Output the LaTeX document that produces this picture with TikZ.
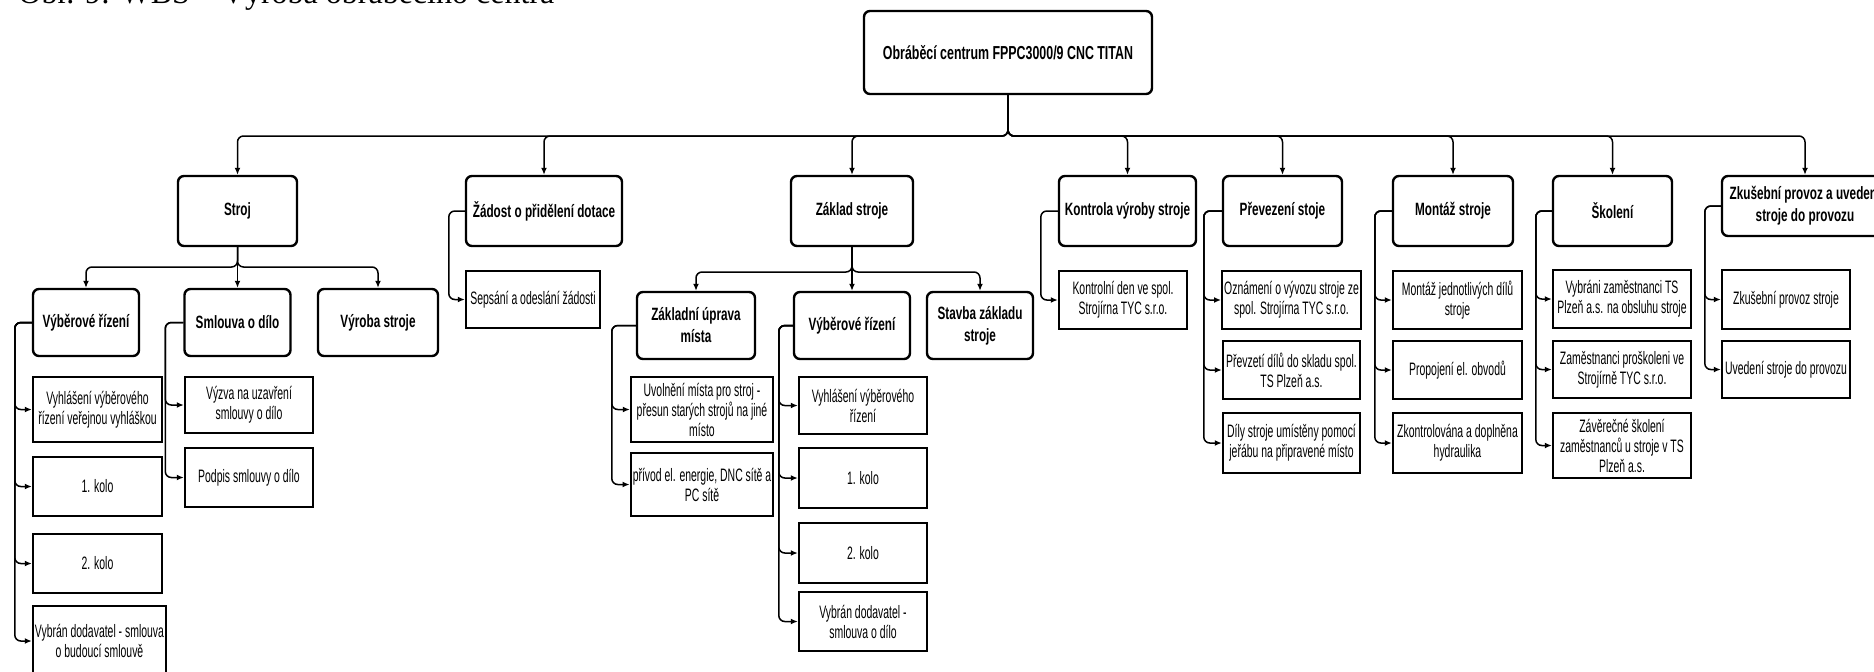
\documentclass[tikz,border=0pt]{standalone}
\usepackage{fontspec}
\setmainfont{Liberation Serif}
\newfontfamily\wbsfont[FakeStretch=0.58]{Liberation Sans}
\newfontfamily\wbshead[FakeStretch=0.66]{Liberation Sans}
\usetikzlibrary{arrows.meta}

\begin{document}
\begin{tikzpicture}[x=0.5pt, y=-0.5pt,
  hdr/.style={draw, line width=1.2pt, rounded corners=3pt, align=center, inner sep=1pt,
    font=\wbshead\bfseries\fontsize{8.9}{11}\selectfont},
  leaf/.style={draw, line width=1.2pt, align=center, inner sep=1pt,
    font=\wbsfont\fontsize{9}{10}\selectfont},
  conn/.style={line width=0.75pt, rounded corners=3pt, -{Latex[length=3.5pt,width=3pt]}}]
\useasboundingbox (0, 0) rectangle (1874, 671);
\node[anchor=base west, inner sep=0pt, font=\fontsize{16}{19}\selectfont] (caption) at (18, 3) {Obr. 9: WBS – Výroba obráběcího centra};

\node[hdr, font=\wbshead\bfseries\fontsize{9.4}{11}\selectfont, minimum width=144pt, minimum height=41.5pt] (root) at (1008, 52.5) {Obráběcí centrum FPPC3000/9 CNC TITAN};
\coordinate (bus) at (1008, 136);

\node[hdr, minimum width=59.5pt, minimum height=35pt] (stroj) at (237.5, 211) {Stroj};
\node[hdr, minimum width=78pt, minimum height=35pt] (zadost) at (544, 211) {Žádost o přidělení dotace};
\node[hdr, minimum width=61pt, minimum height=35pt] (zaklad) at (852, 211) {Základ stroje};
\node[hdr, minimum width=68.5pt, minimum height=35pt] (kontrola) at (1127.5, 211) {Kontrola výroby stroje};
\node[hdr, minimum width=59.5pt, minimum height=35pt] (prevezeni) at (1282.5, 211) {Převezení stoje};
\node[hdr, minimum width=60pt, minimum height=35pt] (montaz) at (1453, 211) {Montáž stroje};
\node[hdr, minimum width=59.5pt, minimum height=35pt] (skoleni) at (1612.5, 211) {Školení};
\node[hdr, minimum width=83pt, minimum height=30pt] (zkusebni) at (1805, 206) {Zkušební provoz a uvedení\\stroje do provozu};

\draw[conn] (root.south) -- (bus) -| (stroj.north);
\draw[conn] (root.south) -- (bus) -| (zadost.north);
\draw[conn] (root.south) -- (bus) -| (zaklad.north);
\draw[conn] (root.south) -- (bus) -| (kontrola.north);
\draw[conn] (root.south) -- (bus) -| (prevezeni.north);
\draw[conn] (root.south) -- (bus) -| (montaz.north);
\draw[conn] (root.south) -- (bus) -| (skoleni.north);
\draw[conn] (root.south) -- (bus) -| (zkusebni.north);

\node[hdr, minimum width=53pt, minimum height=33.5pt] (vrA) at (86, 322.5) {Výběrové řízení};
\node[hdr, minimum width=53pt, minimum height=33.5pt] (smlouva) at (237.5, 322.5) {Smlouva o dílo};
\node[hdr, minimum width=60pt, minimum height=33.5pt] (vyroba) at (378, 322.5) {Výroba stroje};
\coordinate (sbus) at (237.5, 267);
\draw[conn] (stroj.south) -- (sbus) -| (vrA.north);
\draw[conn] (stroj.south) -- (smlouva.north);
\draw[conn] (stroj.south) -- (sbus) -| (vyroba.north);

\node[hdr, minimum width=59pt, minimum height=33.5pt] (uprava) at (696, 325.5) {Základní úprava\\místa};
\node[hdr, minimum width=58pt, minimum height=33.5pt] (vrB) at (852, 325.5) {Výběrové řízení};
\node[hdr, minimum width=53pt, minimum height=33.5pt] (stavba) at (980, 325.5) {Stavba základu\\stroje};
\coordinate (zbus) at (852, 272);
\draw[conn] (zaklad.south) -- (zbus) -| (uprava.north);
\draw[conn] (zaklad.south) -- (vrB.north);
\draw[conn] (zaklad.south) -- (zbus) -| (stavba.north);

\node[leaf, minimum width=64.5pt, minimum height=32.5pt] (vyhlA) at (97.5, 409.5) {Vyhlášení výběrového\\řízení veřejnou vyhláškou};
\node[leaf, minimum width=64.5pt, minimum height=29.5pt] (koloA1) at (97.5, 486.5) {1. kolo};
\node[leaf, minimum width=64.5pt, minimum height=29.5pt] (koloA2) at (97.5, 563.5) {2. kolo};
\node[leaf, minimum width=66.5pt, minimum height=35pt] (vybranA) at (99.5, 641) {Vybrán dodavatel - smlouva\\o budoucí smlouvě};
\draw[conn] (vrA.west) -- ++(-17, 0) |- (vyhlA.west);
\draw[conn] (vrA.west) -- ++(-17, 0) |- (koloA1.west);
\draw[conn] (vrA.west) -- ++(-17, 0) |- (koloA2.west);
\draw[conn] (vrA.west) -- ++(-17, 0) |- (vybranA.west);

\node[leaf, minimum width=64pt, minimum height=28pt] (vyzva) at (249, 405) {Výzva na uzavření\\smlouvy o dílo};
\node[leaf, minimum width=64pt, minimum height=29.5pt] (podpis) at (249, 477.5) {Podpis smlouvy o dílo};
\draw[conn] (smlouva.west) -- ++(-18, 0) |- (vyzva.west);
\draw[conn] (smlouva.west) -- ++(-18, 0) |- (podpis.west);

\node[leaf, minimum width=67pt, minimum height=28.5pt] (sepsani) at (533, 299.5) {Sepsání a odeslání žádosti};
\draw[conn] (zadost.west) -- ++(-16, 0) |- (sepsani.west);

\node[leaf, minimum width=71pt, minimum height=32.5pt] (uvolneni) at (702, 409.5) {Uvolnění místa pro stroj -\\přesun starých strojů na jiné\\místo};
\node[leaf, minimum width=71pt, minimum height=31.5pt] (privod) at (702, 484.5) {přívod el. energie, DNC sítě a\\PC sítě};
\draw[conn] (uprava.west) -- ++(-24, 0) |- (uvolneni.west);
\draw[conn] (uprava.west) -- ++(-24, 0) |- (privod.west);

\node[leaf, minimum width=64pt, minimum height=28.5pt] (vyhlB) at (863, 405.5) {Vyhlášení výběrového\\řízení};
\node[leaf, minimum width=64pt, minimum height=30pt] (koloB1) at (863, 478) {1. kolo};
\node[leaf, minimum width=64pt, minimum height=30pt] (koloB2) at (863, 553) {2. kolo};
\node[leaf, minimum width=64pt, minimum height=29.5pt] (vybranB) at (863, 621.5) {Vybrán dodavatel -\\smlouva o dílo};
\draw[conn] (vrB.west) -- ++(-14, 0) |- (vyhlB.west);
\draw[conn] (vrB.west) -- ++(-14, 0) |- (koloB1.west);
\draw[conn] (vrB.west) -- ++(-14, 0) |- (koloB2.west);
\draw[conn] (vrB.west) -- ++(-14, 0) |- (vybranB.west);

\node[leaf, minimum width=64pt, minimum height=29pt] (kontrolni) at (1123, 300) {Kontrolní den ve spol.\\Strojírna TYC s.r.o.};
\draw[conn] (kontrola.west) -- ++(-17, 0) |- (kontrolni.west);

\node[leaf, minimum width=68.5pt, minimum height=29pt] (oznameni) at (1291.5, 300) {Oznámení o vývozu stroje ze\\spol. Strojírna TYC s.r.o.};
\node[leaf, minimum width=68.5pt, minimum height=29pt] (prevzeti) at (1291.5, 370) {Převzetí dílů do skladu spol.\\TS Plzeň a.s.};
\node[leaf, minimum width=68.5pt, minimum height=30pt] (dily) at (1291.5, 443) {Díly stroje umístěny pomocí\\jeřábu na připravené místo};
\draw[conn] (prevezeni.west) -- ++(-18, 0) |- (oznameni.west);
\draw[conn] (prevezeni.west) -- ++(-18, 0) |- (prevzeti.west);
\draw[conn] (prevezeni.west) -- ++(-18, 0) |- (dily.west);

\node[leaf, minimum width=64.5pt, minimum height=29pt] (montazdilu) at (1457.5, 300) {Montáž jednotlivých dílů\\stroje};
\node[leaf, minimum width=64.5pt, minimum height=29pt] (propojeni) at (1457.5, 370) {Propojení el. obvodů};
\node[leaf, minimum width=64.5pt, minimum height=30pt] (hydraulika) at (1457.5, 443) {Zkontrolována a doplněna\\hydraulika};
\draw[conn] (montaz.west) -- ++(-17, 0) |- (montazdilu.west);
\draw[conn] (montaz.west) -- ++(-17, 0) |- (propojeni.west);
\draw[conn] (montaz.west) -- ++(-17, 0) |- (hydraulika.west);

\node[leaf, minimum width=69pt, minimum height=29pt] (vybrani) at (1622, 299) {Vybráni zaměstnanci TS\\Plzeň a.s. na obsluhu stroje};
\node[leaf, minimum width=69pt, minimum height=28.5pt] (proskoleni) at (1622, 369.5) {Zaměstnanci proškoleni ve\\Strojírně TYC s.r.o.};
\node[leaf, minimum width=69pt, minimum height=32.5pt] (zaverecne) at (1622, 445.5) {Závěrečné školení\\zaměstnanců u stroje v TS\\Plzeň a.s.};
\draw[conn] (skoleni.west) -- ++(-16, 0) |- (vybrani.west);
\draw[conn] (skoleni.west) -- ++(-16, 0) |- (proskoleni.west);
\draw[conn] (skoleni.west) -- ++(-16, 0) |- (zaverecne.west);

\node[leaf, minimum width=64pt, minimum height=29.5pt] (provoz) at (1786, 299.5) {Zkušební provoz stroje};
\node[leaf, minimum width=64pt, minimum height=28.5pt] (uvedeni) at (1786, 369.5) {Uvedení stroje do provozu};
\draw[conn] (zkusebni.west) -- ++(-16, 0) |- (provoz.west);
\draw[conn] (zkusebni.west) -- ++(-16, 0) |- (uvedeni.west);
\end{tikzpicture}
\end{document}
